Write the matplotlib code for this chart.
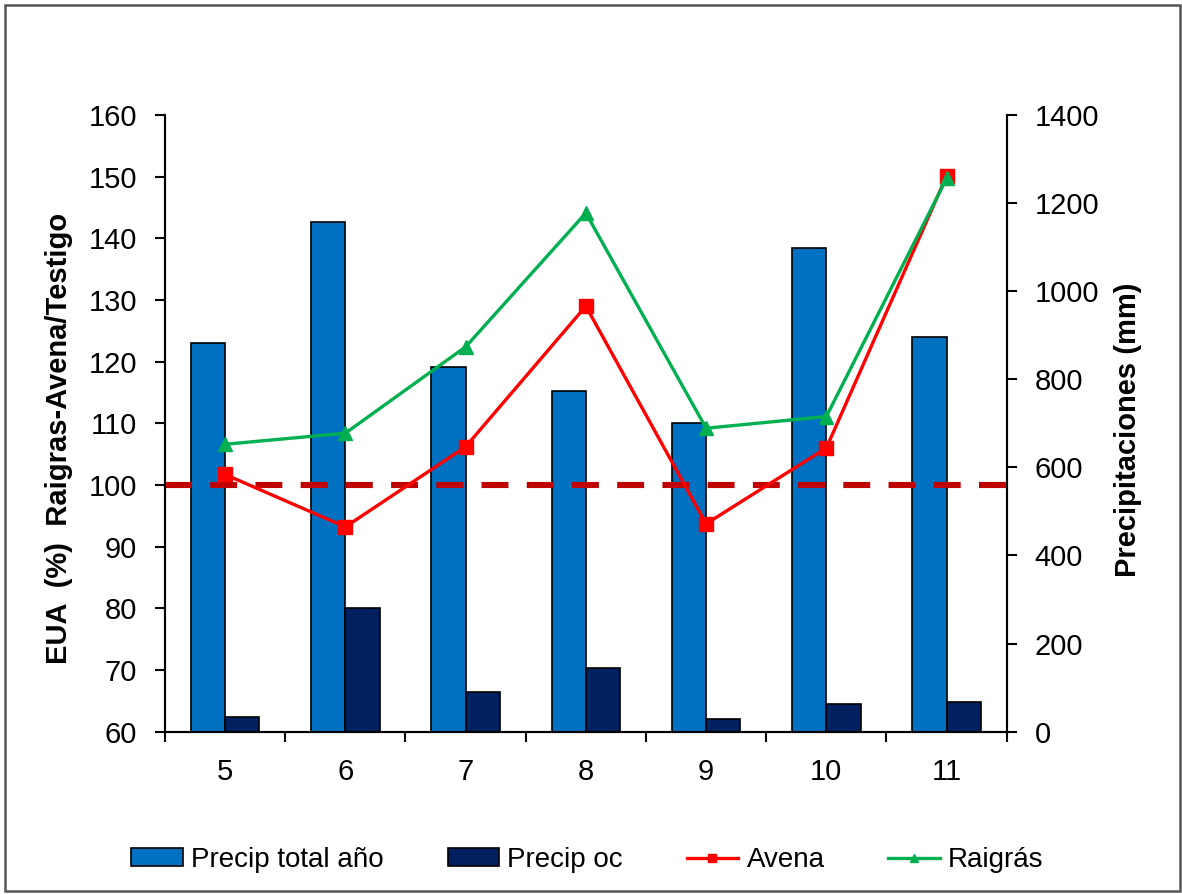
import numpy as np
import matplotlib
matplotlib.use('Agg')
import matplotlib.pyplot as plt
from matplotlib.patches import Rectangle

plt.rcParams['font.family'] = ['Liberation Sans', 'DejaVu Sans']

# datos
edades = [5, 6, 7, 8, 9, 10, 11]
precip_total = [882, 1158, 827, 774, 701, 1099, 895]
precip_oc = [33, 280, 91, 144, 28, 62, 68]
avena = [101.7, 93.2, 106.2, 129.0, 93.7, 106.0, 150.1]
raigras = [106.6, 108.4, 122.4, 144.1, 109.2, 111.1, 149.7]
testigo = 100

fig = plt.figure(figsize=(11.82, 8.94), dpi=100)
fig.patches.append(Rectangle((0.004, 0.003), 0.994, 0.991, transform=fig.transFigure,
                             fill=False, edgecolor='#555555', linewidth=1.8))

ax = fig.add_axes([0.1396, 0.1816, 0.7121, 0.6898])
axr = ax.twinx()
ax.set_zorder(axr.get_zorder() + 1)
ax.patch.set_visible(False)

x = np.arange(len(edades))
w = 1 / 3.5
axr.bar(x - w / 2, precip_total, w, color='#0070C0', edgecolor='black', linewidth=1.2,
        label='Precip total año')
axr.bar(x + w / 2, precip_oc, w, color='#002060', edgecolor='black', linewidth=1.2,
        label='Precip oc')

ax.plot([-0.5, len(edades) - 0.5], [testigo, testigo], color='#C00000', lw=4.4,
        linestyle=(0, (4.4, 3.0)))
ax.plot(x, avena, color='#FF0000', lw=2.4, marker='s', markersize=10, label='Avena')
ax.plot(x, raigras, color='#00B050', lw=2.4, marker='^', markersize=10, label='Raigrás')

ax.set_xlim(-0.5, len(edades) - 0.5)
ax.set_ylim(60, 160)
ax.set_yticks(np.arange(60, 161, 10))
axr.set_ylim(0, 1400)
axr.set_yticks(np.arange(0, 1401, 200))

ax.set_xticks(x)
ax.set_xticklabels([str(e) for e in edades])
ax.set_xticks(np.arange(-0.5, len(edades)), minor=True)
ax.tick_params(axis='x', which='major', length=0, pad=19, labelsize=21)
ax.tick_params(axis='x', which='minor', length=7, width=1.5, direction='out')
ax.tick_params(axis='y', length=7, width=1.5, pad=13, labelsize=21)
axr.tick_params(axis='y', length=7, width=1.5, pad=13, labelsize=21)

for a in (ax, axr):
    a.spines['top'].set_visible(False)
    for s in ('left', 'right', 'bottom'):
        a.spines[s].set_linewidth(1.5)

ax.set_ylabel('EUA  (%)  Raigras-Avena/Testigo', fontsize=21, fontweight='bold')
axr.set_ylabel('Precipitaciones (mm)', fontsize=21, fontweight='bold')
ax.yaxis.set_label_coords(-0.109, 0.475)
axr.yaxis.set_label_coords(1.128, 0.49)

h1, l1 = axr.get_legend_handles_labels()
h2, l2 = ax.get_legend_handles_labels()
fig.legend(h1 + h2, l1 + l2, loc='center', bbox_to_anchor=(0.497, 0.038), ncol=4,
           frameon=False, fontsize=20, handlelength=1.85, handleheight=0.6,
           handletextpad=0.3, columnspacing=2.3, markerscale=0.6)

fig.savefig('out.png', dpi=100)
